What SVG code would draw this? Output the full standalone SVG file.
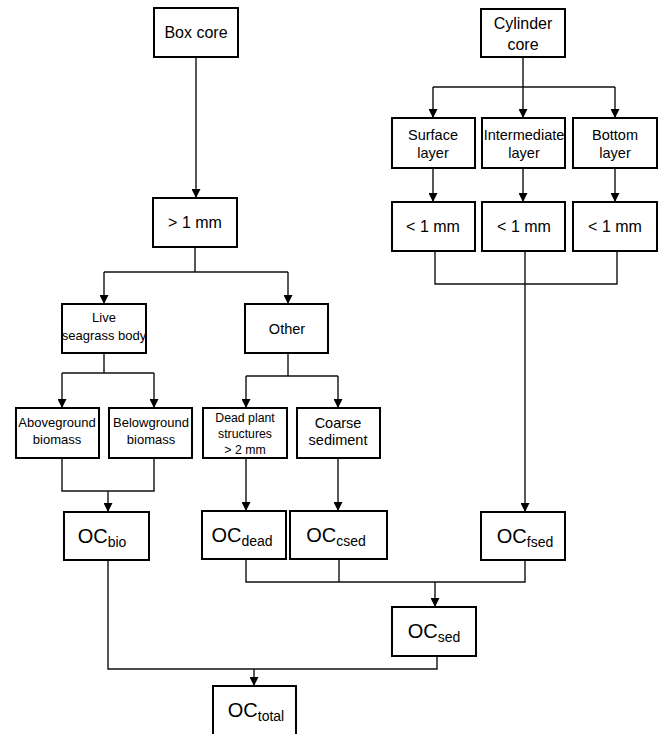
<svg xmlns="http://www.w3.org/2000/svg" width="662" height="734" viewBox="0 0 662 734">
<defs>
<marker id="ah" markerWidth="9" markerHeight="9" refX="9" refY="4.5" orient="auto" markerUnits="userSpaceOnUse">
<path d="M0,0 L9,4.5 L0,9 z" fill="#000"/>
</marker>
</defs>
<style>
rect{fill:#fff;stroke:#000;stroke-width:2}
text{font-family:"Liberation Sans",Arial,sans-serif;fill:#000;text-anchor:middle}
.c path{fill:none;stroke:#111;stroke-width:1.4}
.a{marker-end:url(#ah)}
.t16{font-size:16px}
.t14{font-size:14.5px}
.t13{font-size:13px}
.t12{font-size:12.3px}
.oc{font-size:20px}
.sub{font-size:14px}
</style>
<rect x="0" y="0" width="662" height="734" style="stroke:none;fill:#fff"/>
<g class="c" id="connectors">
<path class="a" d="M196 57 V198"/>
<path d="M195 247 V272 M104 272 H288"/>
<path class="a" d="M104 272 V304"/>
<path class="a" d="M288 272 V304"/>
<path d="M523 57 V87 M433 87 H615"/>
<path class="a" d="M433 87 V118"/>
<path class="a" d="M523 87 V118"/>
<path class="a" d="M615 87 V118"/>
<path class="a" d="M433 168 V202"/>
<path class="a" d="M523 168 V202"/>
<path class="a" d="M615 168 V202"/>
<path d="M435 251 V284 H617 V251"/>
<path class="a" d="M525 251 V512"/>
<path d="M104 353 V373 M62 373 H154"/>
<path class="a" d="M62 373 V408"/>
<path class="a" d="M154 373 V408"/>
<path d="M288 353 V376 M246 376 H338"/>
<path class="a" d="M246 376 V408"/>
<path class="a" d="M338 376 V408"/>
<path d="M62 458 V491 H154 V458"/>
<path class="a" d="M108 491 V512"/>
<path class="a" d="M246 458 V511"/>
<path class="a" d="M338 458 V511"/>
<path d="M246 559 V582 H525 V560 M339 559 V582"/>
<path class="a" d="M435 582 V607"/>
<path d="M437 656 V669 H108 V560"/>
<path class="a" d="M254 669 V686"/>
</g>
<g id="boxcore"><rect x="154" y="8" width="84" height="49"/><text class="t16" x="196" y="38">Box core</text></g>
<g id="gt1mm"><rect x="153" y="198" width="84" height="49"/><text class="t16" x="195" y="228">&gt; 1 mm</text></g>
<g id="cylinder"><rect x="481" y="9" width="84" height="48"/><text class="t16" x="523" y="29">Cylinder</text><text class="t16" x="523" y="50">core</text></g>
<g id="surface"><rect x="392" y="118" width="83" height="50"/><text class="t14" x="433" y="140">Surface</text><text class="t14" x="433" y="158">layer</text></g>
<g id="intermediate"><rect x="482" y="118" width="83" height="50"/><text class="t14" x="524" y="140">Intermediate</text><text class="t14" x="524" y="158">layer</text></g>
<g id="bottom"><rect x="573" y="118" width="84" height="50"/><text class="t14" x="615" y="140">Bottom</text><text class="t14" x="615" y="158">layer</text></g>
<g id="lt1"><rect x="392" y="202" width="83" height="49"/><text class="t16" x="433" y="232">&lt; 1 mm</text></g>
<g id="lt2"><rect x="482" y="202" width="83" height="49"/><text class="t16" x="524" y="232">&lt; 1 mm</text></g>
<g id="lt3"><rect x="573" y="202" width="84" height="49"/><text class="t16" x="615" y="232">&lt; 1 mm</text></g>
<g id="live"><rect x="62" y="304" width="84" height="49"/><text class="t13" x="104" y="322">Live</text><text class="t13" x="104" y="340">seagrass body</text></g>
<g id="other"><rect x="245" y="304" width="83" height="49"/><text class="t14" x="287" y="334">Other</text></g>
<g id="above"><rect x="16" y="408" width="83" height="50"/><text class="t13" x="57" y="427">Aboveground</text><text class="t13" x="57" y="444">biomass</text></g>
<g id="below"><rect x="109" y="408" width="83" height="50"/><text class="t13" x="151" y="427">Belowground</text><text class="t13" x="151" y="444">biomass</text></g>
<g id="dead"><rect x="203" y="408" width="84" height="50"/><text class="t12" x="245" y="422">Dead plant</text><text class="t12" x="245" y="438">structures</text><text class="t12" x="245" y="454">&gt; 2 mm</text></g>
<g id="coarse"><rect x="297" y="408" width="83" height="50"/><text class="t14" x="338" y="428">Coarse</text><text class="t14" x="338" y="445">sediment</text></g>
<g id="ocbio"><rect x="64" y="512" width="85" height="48"/><text class="oc" x="102" y="543">OC<tspan class="sub" dy="4">bio</tspan></text></g>
<g id="ocdead"><rect x="202" y="511" width="84" height="48"/><text class="oc" x="242" y="542">OC<tspan class="sub" dy="4">dead</tspan></text></g>
<g id="occsed"><rect x="290" y="511" width="97" height="48"/><text class="oc" x="336" y="542">OC<tspan class="sub" dy="4">csed</tspan></text></g>
<g id="ocfsed"><rect x="481" y="512" width="84" height="48"/><text class="oc" x="525" y="543">OC<tspan class="sub" dy="4">fsed</tspan></text></g>
<g id="ocsed"><rect x="392" y="607" width="84" height="49"/><text class="oc" x="434" y="638">OC<tspan class="sub" dy="4">sed</tspan></text></g>
<g id="octotal"><rect x="213" y="686" width="83" height="52"/><text class="oc" x="256" y="717">OC<tspan class="sub" dy="4">total</tspan></text></g>
</svg>
